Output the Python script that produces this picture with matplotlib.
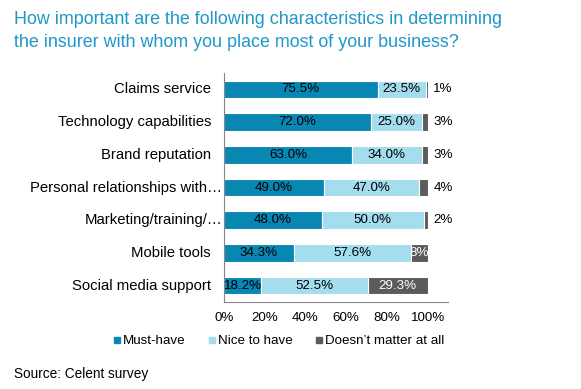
import matplotlib
matplotlib.use("Agg")
import matplotlib.pyplot as plt
import matplotlib.transforms as mtransforms
from matplotlib.lines import Line2D
import numpy as np

plt.rcParams['font.family'] = ['Liberation Sans', 'DejaVu Sans']

categories = ["Claims service", "Technology capabilities", "Brand reputation",
              "Personal relationships with\u2026", "Marketing/training/\u2026",
              "Mobile tools", "Social media support"]
must_have = [75.5, 72.0, 63.0, 49.0, 48.0, 34.3, 18.2]
nice_to_have = [23.5, 25.0, 34.0, 47.0, 50.0, 57.6, 52.5]
doesnt_matter = [1.0, 3.0, 3.0, 4.0, 2.0, 8.1, 29.3]
doesnt_matter_labels = ["1%", "3%", "3%", "4%", "2%", "8%", "29.3%"]
series_names = ["Must-have", "Nice to have", "Doesn\u2019t matter at all"]
x_ticks = [0, 20, 40, 60, 80, 100]
x_tick_labels = ["0%", "20%", "40%", "60%", "80%", "100%"]
title_lines = ["How important are the following characteristics in determining",
               "the insurer with whom you place most of your business?"]

c_must = "#0887B3"
c_nice = "#A3DDEE"
c_dont = "#5C5A5C"

W, H = 581, 389
fig = plt.figure(figsize=(W/100, H/100), dpi=100)
ax = fig.add_axes([224/W, 1-302/H, (448-224)/W, (302-73)/H])

y = np.arange(len(categories))
h = 0.54
ax.barh(y, must_have, height=h, color=c_must, edgecolor="white", linewidth=0.8)
left2 = np.array(must_have)
ax.barh(y, nice_to_have, left=left2, height=h, color=c_nice, edgecolor="white", linewidth=0.8)
left3 = left2 + np.array(nice_to_have)
ax.barh(y, doesnt_matter, left=left3, height=h, color=c_dont, edgecolor="white", linewidth=0.8)

fs = 9.6
for i in range(len(categories)):
    ax.text(must_have[i]/2, y[i], f"{must_have[i]:.1f}%", ha="center", va="center",
            fontsize=fs, color="black")
    ax.text(left2[i] + nice_to_have[i]/2, y[i], f"{nice_to_have[i]:.1f}%", ha="center",
            va="center", fontsize=fs, color="black")
    if doesnt_matter[i] >= 8:
        ax.text(left3[i] + doesnt_matter[i]/2, y[i], doesnt_matter_labels[i], ha="center",
                va="center", fontsize=fs, color="white")
    else:
        ax.text(102.8, y[i], doesnt_matter_labels[i], ha="left", va="center",
                fontsize=fs, color="black")

ax.set_xlim(0, 110)
ax.set_ylim(len(categories) - 0.5, -0.5)
ax.set_xticks(x_ticks)
ax.set_xticklabels(x_tick_labels, fontsize=fs)
ax.set_yticks(y)
ax.set_yticklabels([])
ax.tick_params(axis="both", length=0)
ax.tick_params(axis="x", pad=7)

# category labels (ellipsis labels hang a little further right)
ytrans = ax.get_yaxis_transform()
for i, cat in enumerate(categories):
    dx = -2 if cat.endswith("\u2026") else -13
    tr = mtransforms.offset_copy(ytrans, fig=fig, x=dx, y=0, units="dots")
    ax.text(0, y[i], cat, transform=tr, ha="right", va="center", fontsize=10.7,
            color="black")

for s in ["top", "right"]:
    ax.spines[s].set_visible(False)
for s in ["left", "bottom"]:
    ax.spines[s].set_color("#868686")
    ax.spines[s].set_linewidth(0.8)

handles = [Line2D([], [], marker="s", linestyle="none", markersize=5, color=c)
           for c in (c_must, c_nice, c_dont)]
fig.legend(handles, series_names, loc="center", bbox_to_anchor=(278/W, 1-341/H),
           ncol=3, frameon=False, fontsize=fs, handletextpad=0.05, columnspacing=1.6,
           handlelength=0.8)

fig.text(14/W, 1-24/H, title_lines[0], ha="left", va="baseline", fontsize=12.9,
         color="#1E98C8")
fig.text(14/W, 1-47/H, title_lines[1], ha="left", va="baseline", fontsize=12.9,
         color="#1E98C8")
fig.text(14/W, 1-374/H, "Source: Celent survey", ha="left", va="center", fontsize=9.8,
         color="black")

fig.savefig("out.png", dpi=100)
